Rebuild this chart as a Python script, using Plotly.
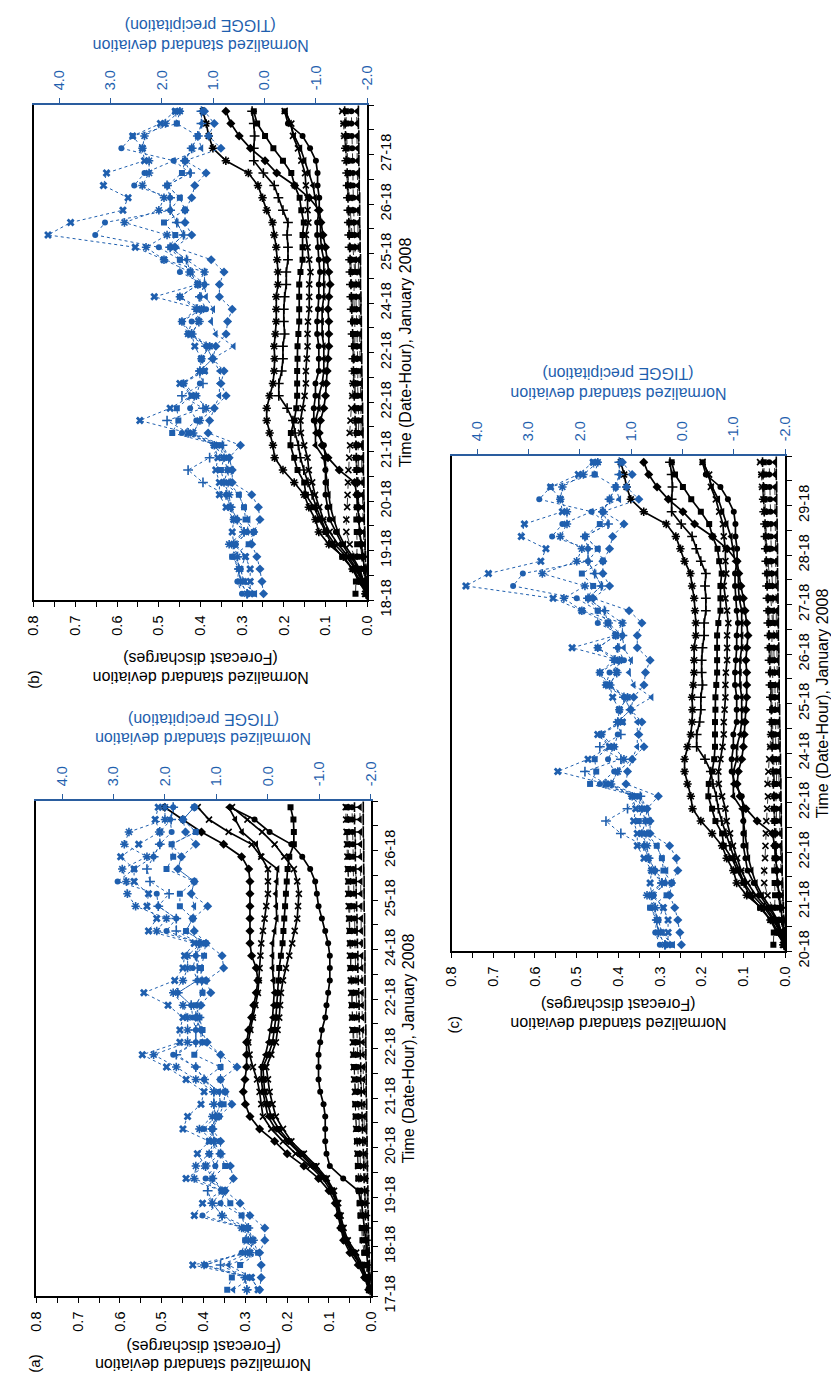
import plotly.graph_objects as go

W, H = 839, 1375
BLUE = '#1f5fae'
BLUE_AX = '#2a5d9f'
FONT = 'Liberation Sans, Arial, sans-serif'

time_index = list(range(40))

a_time_labels = ["17-18", "18-18", "19-18", "20-18", "21-18", "22-18", "22-18", "24-18", "25-18", "26-18"]
b_time_labels = ["18-18", "19-18", "20-18", "21-18", "22-18", "22-18", "24-18", "25-18", "26-18", "27-18"]
c_time_labels = ["20-18", "21-18", "22-18", "22-18", "24-18", "25-18", "26-18", "27-18", "28-18", "29-18"]

dis_ticks = [0.0, 0.1, 0.2, 0.3, 0.4, 0.5, 0.6, 0.7, 0.8]
dis_tick_text = ["0.0", "0.1", "0.2", "0.3", "0.4", "0.5", "0.6", "0.7", "0.8"]
pr_ticks = [-2, -1, 0, 1, 2, 3, 4]
pr_tick_text = ["-2.0", "-1.0", "0.0", "1.0", "2.0", "3.0", "4.0"]

# ---------------- Panel (a): forecast discharges (black) ----------------
a_dis_diamond = [0.005, 0.015, 0.03, 0.05, 0.065, 0.072, 0.078, 0.085, 0.1, 0.125,
                 0.16, 0.2, 0.23, 0.266, 0.289, 0.3, 0.305, 0.301, 0.297, 0.297,
                 0.297, 0.292, 0.285, 0.28, 0.274, 0.27, 0.274, 0.285, 0.289, 0.289,
                 0.289, 0.289, 0.289, 0.289, 0.292, 0.309, 0.352, 0.405, 0.45, 0.493]
a_dis_x = [0.004, 0.012, 0.025, 0.045, 0.062, 0.07, 0.075, 0.08, 0.095, 0.115,
           0.145, 0.18, 0.21, 0.238, 0.258, 0.262, 0.266, 0.272, 0.282, 0.29,
           0.293, 0.288, 0.282, 0.276, 0.27, 0.268, 0.266, 0.264, 0.262, 0.258,
           0.254, 0.25, 0.246, 0.246, 0.246, 0.262, 0.285, 0.34, 0.387, 0.414]
a_dis_tri = [0.004, 0.01, 0.022, 0.04, 0.06, 0.068, 0.074, 0.08, 0.09, 0.11,
             0.14, 0.17, 0.2, 0.228, 0.246, 0.252, 0.258, 0.262, 0.262, 0.252,
             0.245, 0.24, 0.235, 0.233, 0.231, 0.233, 0.235, 0.235, 0.235, 0.23,
             0.225, 0.226, 0.227, 0.225, 0.223, 0.262, 0.274, 0.308, 0.324, 0.34]
a_dis_star = [0.003, 0.01, 0.02, 0.035, 0.055, 0.065, 0.072, 0.078, 0.088, 0.105,
              0.13, 0.16, 0.19, 0.21, 0.227, 0.235, 0.242, 0.246, 0.25, 0.238,
              0.227, 0.223, 0.219, 0.217, 0.215, 0.21, 0.203, 0.195, 0.188, 0.182,
              0.176, 0.174, 0.172, 0.176, 0.184, 0.207, 0.23, 0.26, 0.295, 0.332]
a_dis_square = [0.003, 0.012, 0.025, 0.04, 0.058, 0.068, 0.075, 0.082, 0.092, 0.108,
                0.135, 0.165, 0.195, 0.22, 0.238, 0.246, 0.254, 0.256, 0.258, 0.245,
                0.235, 0.231, 0.227, 0.225, 0.223, 0.221, 0.219, 0.215, 0.211, 0.209,
                0.207, 0.205, 0.203, 0.201, 0.199, 0.195, 0.184, 0.184, 0.185, 0.192]
a_dis_circle = [0.002, 0.005, 0.008, 0.01, 0.012, 0.015, 0.018, 0.022, 0.03, 0.066,
                0.098, 0.106, 0.109, 0.109, 0.109, 0.113, 0.121, 0.125, 0.125, 0.125,
                0.121, 0.117, 0.109, 0.106, 0.102, 0.098, 0.098, 0.098, 0.102, 0.109,
                0.117, 0.125, 0.129, 0.133, 0.145, 0.164, 0.19, 0.242, 0.278, 0.336]

a_zero_sq = [0.004, 0.008, 0.012, 0.016, 0.02, 0.022, 0.025, 0.027, 0.028, 0.03,
             0.031, 0.031, 0.033, 0.034, 0.036, 0.037, 0.036, 0.038, 0.04, 0.041,
             0.04, 0.042, 0.044, 0.045, 0.044, 0.046, 0.048, 0.047, 0.049, 0.05,
             0.051, 0.05, 0.052, 0.053, 0.054, 0.053, 0.055, 0.056, 0.055, 0.057]
a_zero_tri = [0.002, 0.004, 0.006, 0.008, 0.009, 0.01, 0.011, 0.012, 0.012, 0.013,
              0.014, 0.014, 0.015, 0.016, 0.016, 0.017, 0.017, 0.018, 0.018, 0.019,
              0.019, 0.02, 0.02, 0.021, 0.021, 0.022, 0.022, 0.022, 0.023, 0.023,
              0.023, 0.024, 0.024, 0.024, 0.025, 0.025, 0.025, 0.025, 0.026, 0.026]
a_zero_circle = [0.003, 0.007, 0.01, 0.013, 0.016, 0.018, 0.02, 0.022, 0.023, 0.024,
                 0.025, 0.026, 0.027, 0.028, 0.028, 0.029, 0.03, 0.03, 0.031, 0.032,
                 0.032, 0.033, 0.034, 0.034, 0.035, 0.036, 0.036, 0.037, 0.038, 0.038,
                 0.039, 0.04, 0.04, 0.041, 0.042, 0.042, 0.043, 0.044, 0.044, 0.045]
a_zero_x = [0.002, 0.005, 0.009, 0.013, 0.017, 0.02, 0.023, 0.025, 0.027, 0.029,
            0.03, 0.032, 0.033, 0.035, 0.036, 0.037, 0.038, 0.04, 0.041, 0.042,
            0.043, 0.044, 0.045, 0.046, 0.047, 0.048, 0.049, 0.05, 0.05, 0.051,
            0.052, 0.053, 0.054, 0.054, 0.055, 0.056, 0.057, 0.058, 0.059, 0.06]
a_zero_plus = [0.001, 0.003, 0.005, 0.007, 0.009, 0.011, 0.013, 0.014, 0.015, 0.016,
               0.017, 0.018, 0.019, 0.02, 0.021, 0.022, 0.023, 0.024, 0.024, 0.025,
               0.026, 0.027, 0.028, 0.028, 0.029, 0.03, 0.031, 0.031, 0.032, 0.033,
               0.033, 0.034, 0.035, 0.035, 0.036, 0.037, 0.037, 0.038, 0.039, 0.039]
a_zero_bar = [0.001, 0.002, 0.003, 0.004, 0.005, 0.006, 0.006, 0.007, 0.007, 0.008,
              0.008, 0.009, 0.009, 0.01, 0.01, 0.01, 0.011, 0.011, 0.011, 0.012,
              0.012, 0.012, 0.013, 0.013, 0.013, 0.014, 0.014, 0.014, 0.015, 0.015,
              0.015, 0.016, 0.016, 0.016, 0.017, 0.017, 0.017, 0.018, 0.018, 0.018]

# ---------------- Panel (a): TIGGE precipitation (blue) ----------------
a_pr_x = [0.19, 0.32, 1.46, 0.35, 0.29, 0.44, 1.43, 1.27, 0.89, 1.59,
          1.21, 1.37, 1.14, 1.65, 1.56, 1.3, 1.24, 1.59, 1.97, 2.44,
          1.71, 1.71, 1.65, 1.94, 2.41, 1.81, 1.65, 1.62, 1.43, 2.32,
          2.16, 2.35, 2.32, 2.6, 2.6, 2.86, 2.51, 2.1, 2.19, 2.13]
a_pr_star = [0.41, 0.44, 1.24, 0.44, 0.38, 0.51, 0.89, 1.08, 0.89, 1.43,
             1.4, 1.14, 1.05, 1.33, 1.08, 1.05, 1.05, 1.4, 1.78, 2.22,
             1.56, 1.56, 1.56, 1.65, 1.84, 1.65, 1.56, 1.56, 1.3, 2.16,
             1.97, 2.57, 2.73, 2.75, 2.83, 2.35, 2.79, 2.7, 2.0, 2.0]
a_pr_circle = [0.16, 0.35, 1.21, 0.51, 0.44, 0.44, 1.27, 0.92, 0.83, 1.21,
               1.02, 1.14, 0.95, 1.24, 1.02, 0.92, 0.95, 1.24, 1.4, 1.84,
               1.4, 1.4, 1.46, 1.49, 1.75, 1.37, 1.46, 1.4, 1.33, 1.97,
               1.78, 2.13, 2.16, 2.92, 2.6, 2.22, 2.1, 1.87, 1.9, 1.84]
a_pr_square = [0.79, 0.7, 0.54, 0.19, 0.44, 0.38, 0.51, 0.73, 0.89, 1.08,
               0.83, 0.92, 1.14, 1.08, 0.95, 0.86, 0.83, 0.92, 0.92, 1.43,
               1.27, 1.27, 1.33, 1.4, 1.27, 1.27, 1.3, 1.24, 1.21, 1.59,
               1.46, 1.71, 1.71, 1.43, 1.97, 1.84, 1.87, 1.4, 1.65, 1.43]
a_pr_plus = [0.41, 0.44, 0.92, 0.35, 0.29, 0.38, 0.89, 1.08, 1.17, 1.08,
             1.21, 0.92, 1.05, 1.08, 1.02, 1.05, 1.05, 1.24, 1.4, 1.78,
             1.4, 1.4, 1.33, 1.49, 1.75, 1.37, 1.37, 1.4, 1.33, 1.78,
             1.78, 2.13, 1.92, 2.29, 2.35, 2.22, 2.1, 2.1, 1.88, 1.84]
a_pr_diamond = [0.16, 0.13, 0.13, 0.16, 0.06, 0.06, 0.35, 0.54, 0.83, 0.67,
                0.73, 0.92, 0.92, 1.08, 0.95, 0.7, 0.83, 0.92, 0.6, 0.92,
                1.18, 1.3, 1.4, 1.3, 1.11, 1.2, 0.86, 0.89, 1.2, 1.43,
                1.46, 1.17, 1.49, 1.43, 1.75, 1.68, 1.4, 1.6, 1.65, 1.43]
a_pr_tri = [0.67, 0.32, 0.76, 0.19, 0.29, 0.44, 0.51, 0.92, 0.83, 1.08,
            1.02, 0.92, 1.05, 1.08, 1.02, 0.92, 0.95, 1.24, 0.92, 0.92,
            1.3, 1.3, 1.4, 1.4, 1.27, 1.3, 1.3, 1.4, 1.24, 1.59,
            1.46, 1.43, 1.49, 1.43, 1.75, 1.68, 1.87, 1.4, 1.65, 1.43]

# ---------------- Panels (b) and (c): forecast discharges (black) ----------------
bc_dis_star = [0.002, 0.015, 0.035, 0.057, 0.092, 0.116, 0.124, 0.14, 0.151, 0.175,
               0.202, 0.222, 0.226, 0.234, 0.241, 0.241, 0.234, 0.226, 0.223, 0.222,
               0.223, 0.22, 0.218, 0.218, 0.218, 0.214, 0.214, 0.216, 0.218, 0.223,
               0.227, 0.241, 0.251, 0.262, 0.285, 0.339, 0.37, 0.38, 0.386, 0.394]
bc_dis_plus = [0.002, 0.012, 0.028, 0.05, 0.078, 0.098, 0.11, 0.122, 0.132, 0.142,
               0.152, 0.16, 0.165, 0.173, 0.178, 0.192, 0.212, 0.212, 0.205, 0.202,
               0.202, 0.198, 0.2, 0.2, 0.198, 0.194, 0.194, 0.19, 0.19, 0.192,
               0.19, 0.202, 0.213, 0.223, 0.249, 0.272, 0.272, 0.27, 0.272, 0.276]
bc_dis_square = [0.002, 0.02, 0.035, 0.06, 0.085, 0.1, 0.115, 0.128, 0.147, 0.151,
                 0.167, 0.175, 0.184, 0.183, 0.175, 0.17, 0.168, 0.168, 0.168, 0.167,
                 0.167, 0.165, 0.163, 0.163, 0.163, 0.163, 0.16, 0.155, 0.155, 0.155,
                 0.152, 0.158, 0.162, 0.174, 0.182, 0.202, 0.225, 0.245, 0.264, 0.272]
bc_dis_x = [0.002, 0.01, 0.025, 0.045, 0.07, 0.09, 0.105, 0.115, 0.125, 0.132,
            0.14, 0.143, 0.151, 0.159, 0.16, 0.155, 0.15, 0.147, 0.147, 0.145,
            0.143, 0.143, 0.142, 0.139, 0.139, 0.139, 0.136, 0.139, 0.143, 0.147,
            0.141, 0.143, 0.143, 0.147, 0.149, 0.158, 0.166, 0.178, 0.182, 0.198]
bc_dis_circle = [0.002, 0.01, 0.02, 0.04, 0.06, 0.075, 0.09, 0.095, 0.1, 0.1,
                 0.1, 0.1, 0.104, 0.12, 0.128, 0.128, 0.124, 0.124, 0.116, 0.116,
                 0.116, 0.12, 0.12, 0.118, 0.116, 0.116, 0.113, 0.116, 0.118, 0.12,
                 0.12, 0.115, 0.115, 0.119, 0.119, 0.123, 0.137, 0.155, 0.19, 0.198]
bc_dis_tri = [0.002, 0.008, 0.018, 0.035, 0.055, 0.07, 0.08, 0.088, 0.092, 0.096,
              0.1, 0.104, 0.124, 0.124, 0.124, 0.116, 0.116, 0.108, 0.104, 0.104,
              0.104, 0.108, 0.108, 0.108, 0.104, 0.104, 0.104, 0.104, 0.11, 0.112,
              0.112, 0.12, 0.125, 0.13, 0.14, 0.15, 0.16, 0.175, 0.185, 0.195]
bc_dis_diamond = [0.0, 0.003, 0.006, 0.01, 0.014, 0.018, 0.02, 0.022, 0.025, 0.03,
                  0.067, 0.094, 0.108, 0.115, 0.112, 0.104, 0.1, 0.098, 0.096, 0.094,
                  0.092, 0.092, 0.092, 0.094, 0.092, 0.089, 0.092, 0.096, 0.1, 0.106,
                  0.111, 0.115, 0.139, 0.174, 0.217, 0.245, 0.28, 0.307, 0.327, 0.339]

bc_zero_x = [0.005, 0.012, 0.02, 0.03, 0.042, 0.05, 0.05, 0.048, 0.047, 0.046,
             0.045, 0.043, 0.041, 0.042, 0.04, 0.038, 0.036, 0.034, 0.032, 0.03,
             0.03, 0.029, 0.03, 0.031, 0.032, 0.031, 0.03, 0.032, 0.034, 0.036,
             0.038, 0.04, 0.042, 0.045, 0.047, 0.05, 0.052, 0.055, 0.057, 0.06]
bc_zero_sq = [0.028, 0.027, 0.025, 0.024, 0.024, 0.025, 0.026, 0.025, 0.024, 0.025,
              0.026, 0.027, 0.026, 0.025, 0.026, 0.027, 0.028, 0.029, 0.031, 0.031,
              0.032, 0.034, 0.034, 0.035, 0.037, 0.037, 0.038, 0.04, 0.04, 0.041,
              0.043, 0.043, 0.044, 0.046, 0.046, 0.047, 0.049, 0.049, 0.05, 0.051]
bc_zero_circle = [0.002, 0.006, 0.01, 0.013, 0.016, 0.018, 0.019, 0.02, 0.021, 0.022,
                  0.02, 0.021, 0.022, 0.021, 0.02, 0.021, 0.022, 0.023, 0.022, 0.023,
                  0.024, 0.025, 0.025, 0.026, 0.027, 0.027, 0.028, 0.029, 0.03, 0.03,
                  0.031, 0.032, 0.033, 0.034, 0.034, 0.035, 0.036, 0.037, 0.038, 0.038]
bc_zero_tri = [0.001, 0.003, 0.005, 0.007, 0.008, 0.009, 0.01, 0.011, 0.012, 0.012,
               0.013, 0.013, 0.014, 0.014, 0.015, 0.015, 0.016, 0.016, 0.017, 0.017,
               0.018, 0.018, 0.019, 0.019, 0.02, 0.02, 0.021, 0.021, 0.022, 0.022,
               0.022, 0.023, 0.023, 0.023, 0.024, 0.024, 0.024, 0.025, 0.025, 0.025]
bc_zero_plus = [0.002, 0.005, 0.008, 0.012, 0.015, 0.018, 0.02, 0.021, 0.022, 0.024,
                0.025, 0.026, 0.027, 0.028, 0.029, 0.03, 0.031, 0.032, 0.033, 0.033,
                0.034, 0.035, 0.036, 0.037, 0.038, 0.039, 0.04, 0.041, 0.042, 0.043,
                0.044, 0.045, 0.046, 0.047, 0.048, 0.05, 0.051, 0.052, 0.053, 0.054]
bc_zero_bar = [0.001, 0.002, 0.003, 0.004, 0.005, 0.006, 0.007, 0.007, 0.008, 0.008,
               0.009, 0.009, 0.01, 0.01, 0.011, 0.011, 0.012, 0.012, 0.013, 0.013,
               0.014, 0.014, 0.014, 0.015, 0.015, 0.016, 0.016, 0.016, 0.017, 0.017,
               0.018, 0.018, 0.018, 0.019, 0.019, 0.02, 0.02, 0.02, 0.021, 0.021]

# ---------------- Panels (b) and (c): TIGGE precipitation (blue) ----------------
bc_pr_x = [0.28, 0.28, 0.28, 0.37, 0.6, 0.63, 0.6, 0.75, 0.88, 0.88,
           0.95, 0.91, 0.98, 1.49, 2.43, 1.84, 1.42, 1.65, 1.17, 1.23,
           1.36, 1.42, 1.28, 1.23, 2.15, 1.3, 1.45, 1.96, 2.52, 4.22,
           3.78, 2.76, 2.66, 3.14, 3.08, 2.34, 2.38, 2.57, 2.03, 1.74]
bc_pr_star = [0.34, 0.47, 0.5, 0.53, 0.69, 0.4, 0.6, 0.66, 0.69, 0.79,
              0.72, 0.79, 0.98, 1.39, 1.26, 1.14, 1.33, 1.58, 1.26, 1.23,
              1.07, 1.49, 1.61, 1.23, 1.65, 1.3, 1.17, 1.96, 2.31, 1.9,
              2.73, 2.06, 1.96, 2.38, 2.25, 2.25, 2.38, 2.34, 1.93, 1.65]
bc_pr_circle = [0.44, 0.53, 0.5, 0.63, 0.56, 0.34, 0.53, 0.66, 0.75, 0.69,
                0.72, 0.69, 0.88, 1.61, 1.33, 1.45, 1.33, 1.26, 1.26, 1.01,
                1.14, 1.49, 1.42, 1.14, 1.26, 1.17, 1.65, 1.65, 2.06, 3.3,
                3.11, 1.84, 1.84, 2.54, 2.34, 1.77, 2.79, 2.57, 1.71, 1.65]
bc_pr_square = [0.21, 0.4, 0.47, 0.63, 0.31, 0.21, 0.37, 0.4, 0.5, 0.79,
                0.85, 0.79, 0.88, 1.8, 1.68, 1.71, 1.42, 1.58, 1.17, 1.23,
                1.07, 1.42, 1.61, 1.33, 1.65, 1.3, 1.45, 1.65, 1.84, 1.74,
                1.96, 1.55, 1.65, 1.9, 1.61, 1.55, 1.42, 1.3, 1.71, 1.74]
bc_pr_plus = [0.34, 0.47, 0.5, 0.53, 0.6, 0.4, 0.53, 0.66, 0.75, 1.2,
              1.49, 1.07, 0.82, 1.49, 1.9, 1.2, 1.61, 1.2, 1.26, 1.01,
              1.14, 1.42, 1.28, 1.33, 1.26, 1.17, 1.45, 1.52, 1.84, 1.58,
              1.71, 1.84, 1.84, 1.9, 1.45, 1.55, 1.42, 1.3, 1.23, 1.23]
bc_pr_diamond = [0.02, 0.05, 0.09, 0.15, 0.25, 0.21, 0.09, 0.12, 0.25, 0.63,
                 0.63, 0.69, 0.47, 1.1, 1.07, 0.98, 0.75, 0.85, 0.79, 1.01,
                 0.95, 0.75, 0.72, 0.63, 0.88, 0.88, 0.79, 1.04, 1.74, 1.42,
                 1.55, 1.55, 1.42, 1.36, 1.14, 1.55, 0.85, 1.09, 0.98, 1.17]
bc_pr_tri = [0.18, 0.4, 0.47, 0.37, 0.56, 0.34, 0.31, 0.4, 0.5, 0.69,
             0.63, 0.69, 0.82, 1.39, 1.26, 0.98, 0.88, 0.88, 0.88, 1.01,
             0.6, 0.95, 1.04, 1.0, 1.14, 1.17, 1.17, 1.52, 1.84, 1.58,
             1.71, 1.84, 1.65, 1.9, 1.45, 1.77, 1.23, 1.3, 1.23, 1.23]

MK = {
    'diamond': ('diamond', 7, False),
    'square': ('square', 6, False),
    'tri': ('triangle-left', 7, False),
    'x': ('x-thin', 6, True),
    'star': ('asterisk', 7, True),
    'circle': ('circle', 6, False),
    'plus': ('cross-thin', 7, True),
    'bar': ('line-ns', 8, True),
}
BMK = {
    'x': ('x', 7, False),
    'star': ('asterisk', 7, True),
    'circle': ('circle', 6, False),
    'square': ('square', 6, False),
    'plus': ('cross-thin', 7, True),
    'diamond': ('diamond', 7, False),
    'tri': ('triangle-left', 7, False),
}


def marker(spec, color):
    sym, size, is_open = spec
    return dict(symbol=sym, size=size, color=color,
                line=dict(color=color, width=1.6 if is_open else 0))


bc_black = [(bc_dis_diamond, 'diamond'), (bc_dis_tri, 'tri'), (bc_dis_circle, 'circle'),
            (bc_dis_x, 'x'), (bc_dis_square, 'square'), (bc_dis_plus, 'plus'), (bc_dis_star, 'star')]
bc_zero = [(bc_zero_x, 'x'), (bc_zero_sq, 'square'), (bc_zero_circle, 'circle'),
           (bc_zero_tri, 'tri'), (bc_zero_plus, 'plus'), (bc_zero_bar, 'bar')]
bc_blue = [(bc_pr_x, 'x'), (bc_pr_star, 'star'), (bc_pr_circle, 'circle'), (bc_pr_square, 'square'),
           (bc_pr_plus, 'plus'), (bc_pr_diamond, 'diamond'), (bc_pr_tri, 'tri')]

panels = [
    dict(xd=(20.7, 361.7), yd=(793, 1288), labels=a_time_labels,
         black=[(a_dis_circle, 'circle'), (a_dis_square, 'square'), (a_dis_star, 'x'),
                (a_dis_tri, 'tri'), (a_dis_x, 'x'), (a_dis_diamond, 'diamond')],
         zero=[(a_zero_sq, 'square'), (a_zero_tri, 'tri'), (a_zero_circle, 'circle'),
               (a_zero_x, 'x'), (a_zero_plus, 'plus'), (a_zero_bar, 'bar')],
         blue=[(a_pr_x, 'x'), (a_pr_star, 'star'), (a_pr_circle, 'circle'), (a_pr_square, 'square'),
               (a_pr_plus, 'plus'), (a_pr_diamond, 'diamond'), (a_pr_tri, 'tri')],
         bot_y=(1339, 1357), top_y=(711, 731), tag='(a)', tag_xy=(18, 1356)),
    dict(xd=(18, 358), yd=(97, 592), labels=b_time_labels,
         black=bc_black, zero=bc_zero, blue=bc_blue,
         bot_y=(650, 670), top_y=(17, 37), tag='(b)', tag_xy=(18, 672)),
    dict(xd=(444, 784), yd=(448, 943), labels=c_time_labels,
         black=bc_black, zero=bc_zero, blue=bc_blue,
         bot_y=(997, 1016), top_y=(366, 386), tag='(c)', tag_xy=(446, 1016)),
]

fig = go.Figure()
layout = dict(width=W, height=H, margin=dict(l=0, r=0, t=0, b=0), autosize=False,
              paper_bgcolor='white', plot_bgcolor='white', showlegend=False,
              font=dict(family=FONT, size=14, color='black'))
annotations = []

time_tickvals = [-0.5 + 4 * k for k in range(10)]
tickfont_black = dict(family=FONT, size=14.5, color='black')
tickfont_blue = dict(family=FONT, size=14.5, color=BLUE)


def text_ann(x, y, text, angle, color, size=16):
    return dict(x=x / W, y=1 - y / H, xref='paper', yref='paper', text=text,
                textangle=angle, showarrow=False, xanchor='center', yanchor='middle',
                borderpad=0, font=dict(family=FONT, size=size, color=color))


for k, p in enumerate(panels):
    xb = 'x' if k == 0 else 'x%d' % (2 * k + 1)
    xt = 'x%d' % (2 * k + 2)
    ya = 'y' if k == 0 else 'y%d' % (k + 1)
    xb_key = 'xaxis' if k == 0 else 'xaxis%d' % (2 * k + 1)
    xt_key = 'xaxis%d' % (2 * k + 2)
    ya_key = 'yaxis' if k == 0 else 'yaxis%d' % (k + 1)
    x0, x1 = p['xd'][0] / W, p['xd'][1] / W
    y0, y1 = 1 - p['yd'][1] / H, 1 - p['yd'][0] / H

    for vals, m in p['zero']:
        assert len(vals) == 40
        fig.add_trace(go.Scatter(x=vals, y=time_index, xaxis=xb, yaxis=ya, mode='lines+markers',
                                 line=dict(color='black', width=0.8, dash='dash'),
                                 marker=marker(MK[m], 'black'), hoverinfo='skip'))
    for vals, m in p['black']:
        assert len(vals) == 40
        fig.add_trace(go.Scatter(x=vals, y=time_index, xaxis=xb, yaxis=ya, mode='lines+markers',
                                 line=dict(color='black', width=1.7),
                                 marker=marker(MK[m], 'black'), hoverinfo='skip'))
    for vals, m in p['blue']:
        assert len(vals) == 40
        fig.add_trace(go.Scatter(x=vals, y=time_index, xaxis=xt, yaxis=ya, mode='lines+markers',
                                 line=dict(color=BLUE, width=1, dash='dot'),
                                 marker=marker(BMK[m], BLUE), hoverinfo='skip'))

    layout[xb_key] = dict(domain=[x0, x1], anchor=ya, side='bottom', range=[0.8, 0],
                          showline=True, linecolor='black', linewidth=1.5,
                          ticks='outside', ticklen=5, tickwidth=1, tickcolor='black',
                          tickmode='array', tickvals=dis_ticks, ticktext=dis_tick_text,
                          tickangle=-90, tickfont=tickfont_black, ticklabelstandoff=3,
                          minor=dict(dtick=0.05, tick0=0, ticks='outside', ticklen=5,
                                     tickcolor='black', tickwidth=1),
                          showgrid=False, zeroline=False, fixedrange=True)
    layout[xt_key] = dict(overlaying=xb, anchor=ya, side='top', range=[4.5, -2],
                          showline=True, linecolor=BLUE_AX, linewidth=1.5,
                          ticks='outside', ticklen=5, tickwidth=1, tickcolor=BLUE_AX,
                          tickmode='array', tickvals=pr_ticks, ticktext=pr_tick_text,
                          tickangle=-90, tickfont=tickfont_blue, ticklabelstandoff=5,
                          showgrid=False, zeroline=False, fixedrange=True)
    layout[ya_key] = dict(domain=[y0, y1], anchor=xb, side='right', range=[-0.5, 39.5],
                          showline=True, linecolor='black', linewidth=1.5, mirror=True,
                          ticks='outside', ticklen=5, tickwidth=1, tickcolor='black',
                          tickmode='array', tickvals=time_tickvals, ticktext=p['labels'],
                          tickangle=-90, tickfont=tickfont_black,
                          minor=dict(tick0=-0.5, dtick=2, ticks='outside', ticklen=5,
                                     tickcolor='black', tickwidth=1),
                          title=dict(text='Time (Date-Hour), January 2008', standoff=6,
                                     font=dict(family=FONT, size=16, color='black')),
                          automargin=False,
                          showgrid=False, zeroline=False, fixedrange=True)

    cxp = (p['xd'][0] + p['xd'][1]) / 2
    annotations.append(text_ann(cxp, p['bot_y'][0], '(Forecast discharges)', 180, 'black'))
    annotations.append(text_ann(cxp, p['bot_y'][1], 'Normalized standard deviation', 180, 'black'))
    annotations.append(text_ann(cxp, p['top_y'][0], '(TIGGE precipitation)', 180, BLUE))
    annotations.append(text_ann(cxp, p['top_y'][1], 'Normalized standard deviation', 180, BLUE))
    annotations.append(text_ann(p['tag_xy'][0], p['tag_xy'][1], p['tag'], -90, 'black', size=15))

layout['annotations'] = annotations
fig.update_layout(**layout)
fig.write_html("out.html")
